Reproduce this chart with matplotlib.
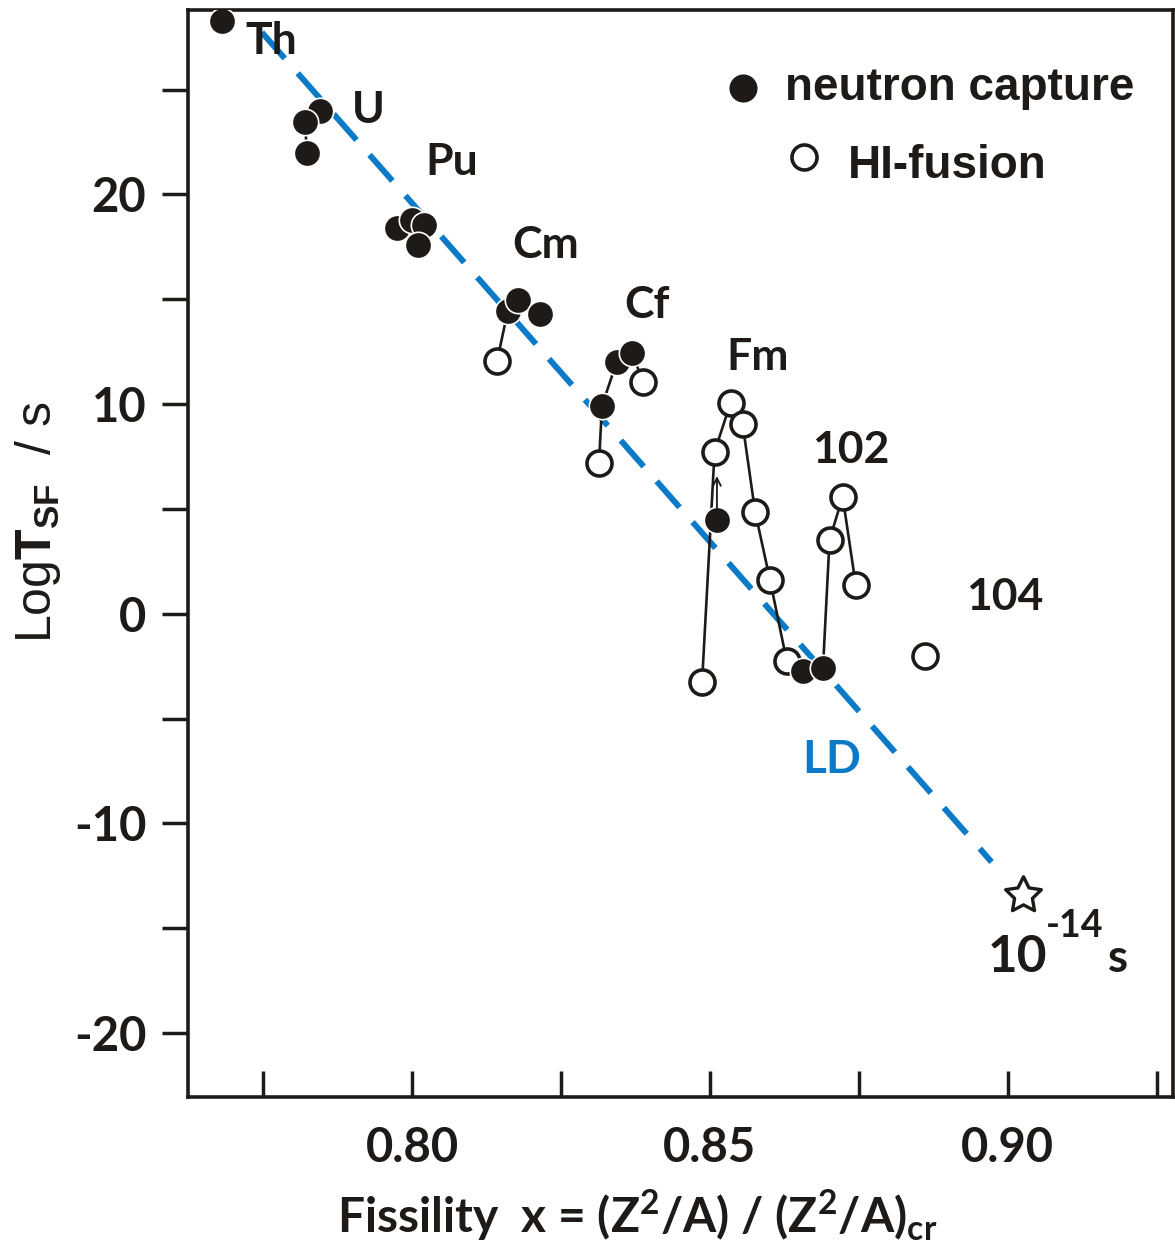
import matplotlib
matplotlib.use('Agg')
import matplotlib.pyplot as plt
from matplotlib.path import Path
from matplotlib.ticker import MultipleLocator

plt.rcParams['mathtext.fontset'] = 'custom'
plt.rcParams['mathtext.rm'] = 'Lato:bold'
plt.rcParams['mathtext.sf'] = 'Liberation Sans:bold'

INK = '#1d1a17'
BLUE = '#0b7bc8'

# isotope chains: fissility x, log T_sf, measured by neutron capture (True) or HI-fusion (False)
th_x = [0.7681]
th_y = [28.26]
th_nc = [True]

u_x = [0.7846, 0.7820, 0.7824]
u_y = [23.96, 23.48, 21.96]
u_nc = [True, True, True]

pu_x = [0.7975, 0.8000, 0.8020, 0.8010]
pu_y = [18.42, 18.76, 18.52, 17.57]
pu_nc = [True, True, True, True]

cm_x = [0.8143, 0.8161, 0.8178, 0.8215]
cm_y = [12.08, 14.46, 14.99, 14.32]
cm_nc = [False, True, True, True]

cf_x = [0.8314, 0.8319, 0.8344, 0.8369, 0.8388]
cf_y = [7.21, 9.93, 12.03, 12.46, 11.07]
cf_nc = [False, True, True, True, False]

fm_x = [0.8487, 0.8508, 0.8535, 0.8555, 0.8576, 0.8601, 0.8629, 0.8656]
fm_y = [-3.25, 7.73, 10.07, 9.07, 4.87, 1.62, -2.24, -2.72]
fm_nc = [False, False, False, False, False, False, False, True]

fm_single_x = [0.8512]
fm_single_y = [4.49]
fm_single_nc = [True]

no_x = [0.8690, 0.8701, 0.8723, 0.8745]
no_y = [-2.58, 3.53, 5.58, 1.38]
no_nc = [True, False, False, False]

rf_x = [0.8861]
rf_y = [-2.00]
rf_nc = [False]

# lower limit arrow on the filled Fm point
arrow_x = 0.8512
arrow_y = [4.9, 6.7]

# liquid drop line and its end point
ld_x = [0.7748, 0.8973]
ld_y = [27.73, -11.84]
star_x = [0.9025]
star_y = [-13.41]

chains = [(th_x, th_y, th_nc), (u_x, u_y, u_nc), (pu_x, pu_y, pu_nc),
          (cm_x, cm_y, cm_nc), (cf_x, cf_y, cf_nc), (fm_x, fm_y, fm_nc),
          (fm_single_x, fm_single_y, fm_single_nc), (no_x, no_y, no_nc),
          (rf_x, rf_y, rf_nc)]

element_labels = ['Th', 'U', 'Pu', 'Cm', 'Cf', 'Fm', '102', '104']
label_x = [0.7720, 0.7899, 0.8022, 0.8168, 0.8357, 0.8528, 0.8672, 0.8931]
label_y = [26.68, 23.39, 20.95, 16.99, 14.13, 11.65, 7.21, 0.19]

fig = plt.figure(figsize=(11.75, 12.48), dpi=100)
ax = fig.add_axes([0.160, 0.121, 0.838, 0.871])

filled = dict(marker='o', ms=19, mfc=INK, mec='white', mew=1.2, ls='none', zorder=4)
hollow = dict(marker='o', ms=18, mfc='white', mec=INK, mew=2.6, ls='none', zorder=3)

for xs, ys, nc in chains:
    if len(xs) > 1:
        ax.plot(xs, ys, color=INK, lw=1.9, zorder=2)
    ax.plot([x for x, n in zip(xs, nc) if n], [y for y, n in zip(ys, nc) if n], **filled)
    ax.plot([x for x, n in zip(xs, nc) if not n], [y for y, n in zip(ys, nc) if not n], **hollow)

ax.annotate('', xy=(arrow_x, arrow_y[1]), xytext=(arrow_x, arrow_y[0]),
            arrowprops=dict(arrowstyle='->', color=INK, lw=1.3, mutation_scale=14),
            zorder=5)

ax.plot(ld_x, ld_y, color=BLUE, lw=4.3, dashes=(5.8, 3.3), zorder=1)

star = Path.unit_regular_star(5, innerCircle=0.5)
ax.plot(star_x, star_y, marker=star, ms=27, mfc='white', mec=INK, mew=2.4, ls='none')

for name, lx, ly in zip(element_labels, label_x, label_y):
    ax.text(lx, ly, name, fontsize=32, family='Lato', weight='bold', color=INK,
            ha='left', va='baseline')
ax.text(0.8656, -7.59, 'LD', fontsize=33, family='Lato', weight='bold', color=BLUE,
        ha='left', va='baseline')
ax.text(0.8966, -17.09, '10', fontsize=37, family='Lato', weight='bold', color=INK,
        ha='left', va='baseline')
ax.text(0.9065, -15.42, '-14', fontsize=27, family='Lato', weight='bold', color=INK,
        ha='left', va='baseline')
ax.text(0.9168, -17.09, 's', fontsize=33, family='Lato', weight='bold', color=INK,
        ha='left', va='baseline')

# legend drawn by hand: the two rows are offset
ax.plot([0.5635], [0.928], transform=ax.transAxes, clip_on=False,
        **dict(filled, mec=INK))
ax.plot([0.626], [0.865], transform=ax.transAxes, clip_on=False, **hollow)
ax.text(0.606, 0.917, 'neutron capture', transform=ax.transAxes, fontsize=33,
        family='Liberation Sans', weight='bold', color=INK, va='baseline')
ax.text(0.670, 0.845, 'HI-fusion', transform=ax.transAxes, fontsize=33,
        family='Liberation Sans', weight='bold', color=INK, va='baseline')

ax.set_xlim(0.7624, 0.9277)
ax.set_ylim(-23.05, 28.8)
ax.xaxis.set_major_locator(MultipleLocator(0.05))
ax.xaxis.set_minor_locator(MultipleLocator(0.025))
ax.yaxis.set_major_locator(MultipleLocator(10))
ax.yaxis.set_minor_locator(MultipleLocator(5))
ax.xaxis.set_major_formatter(lambda v, p: f'{v:.2f}')
ax.yaxis.set_major_formatter(lambda v, p: f'{v:.0f}'.replace('\u2212', '-'))

ax.tick_params(axis='x', which='both', direction='in', length=19, width=2.5,
               color=INK, top=False, pad=21)
ax.tick_params(axis='y', which='both', direction='out', length=19, width=2.5,
               color=INK, right=False, pad=11)
for lab in ax.get_xticklabels() + ax.get_yticklabels():
    lab.set_fontfamily('Lato')
    lab.set_fontweight('bold')
    lab.set_fontsize(34)
    lab.set_color(INK)
for sp in ax.spines.values():
    sp.set_linewidth(2.6)
    sp.set_color(INK)

ax.set_xlabel(r'Fissility  x = (Z$^\mathrm{2}$/A) / (Z$^\mathrm{2}$/A)$_\mathrm{cr}$',
              fontsize=34.5, family='Lato', weight='bold', color=INK)
ax.xaxis.set_label_coords(0.456, -0.083)
ax.set_ylabel(r'Log$\mathsf{T_{SF}}$  / s', fontsize=36, family='Liberation Sans',
              color=INK)
ax.yaxis.set_label_coords(-0.127, 0.529)

fig.savefig('out.png', dpi=100)
